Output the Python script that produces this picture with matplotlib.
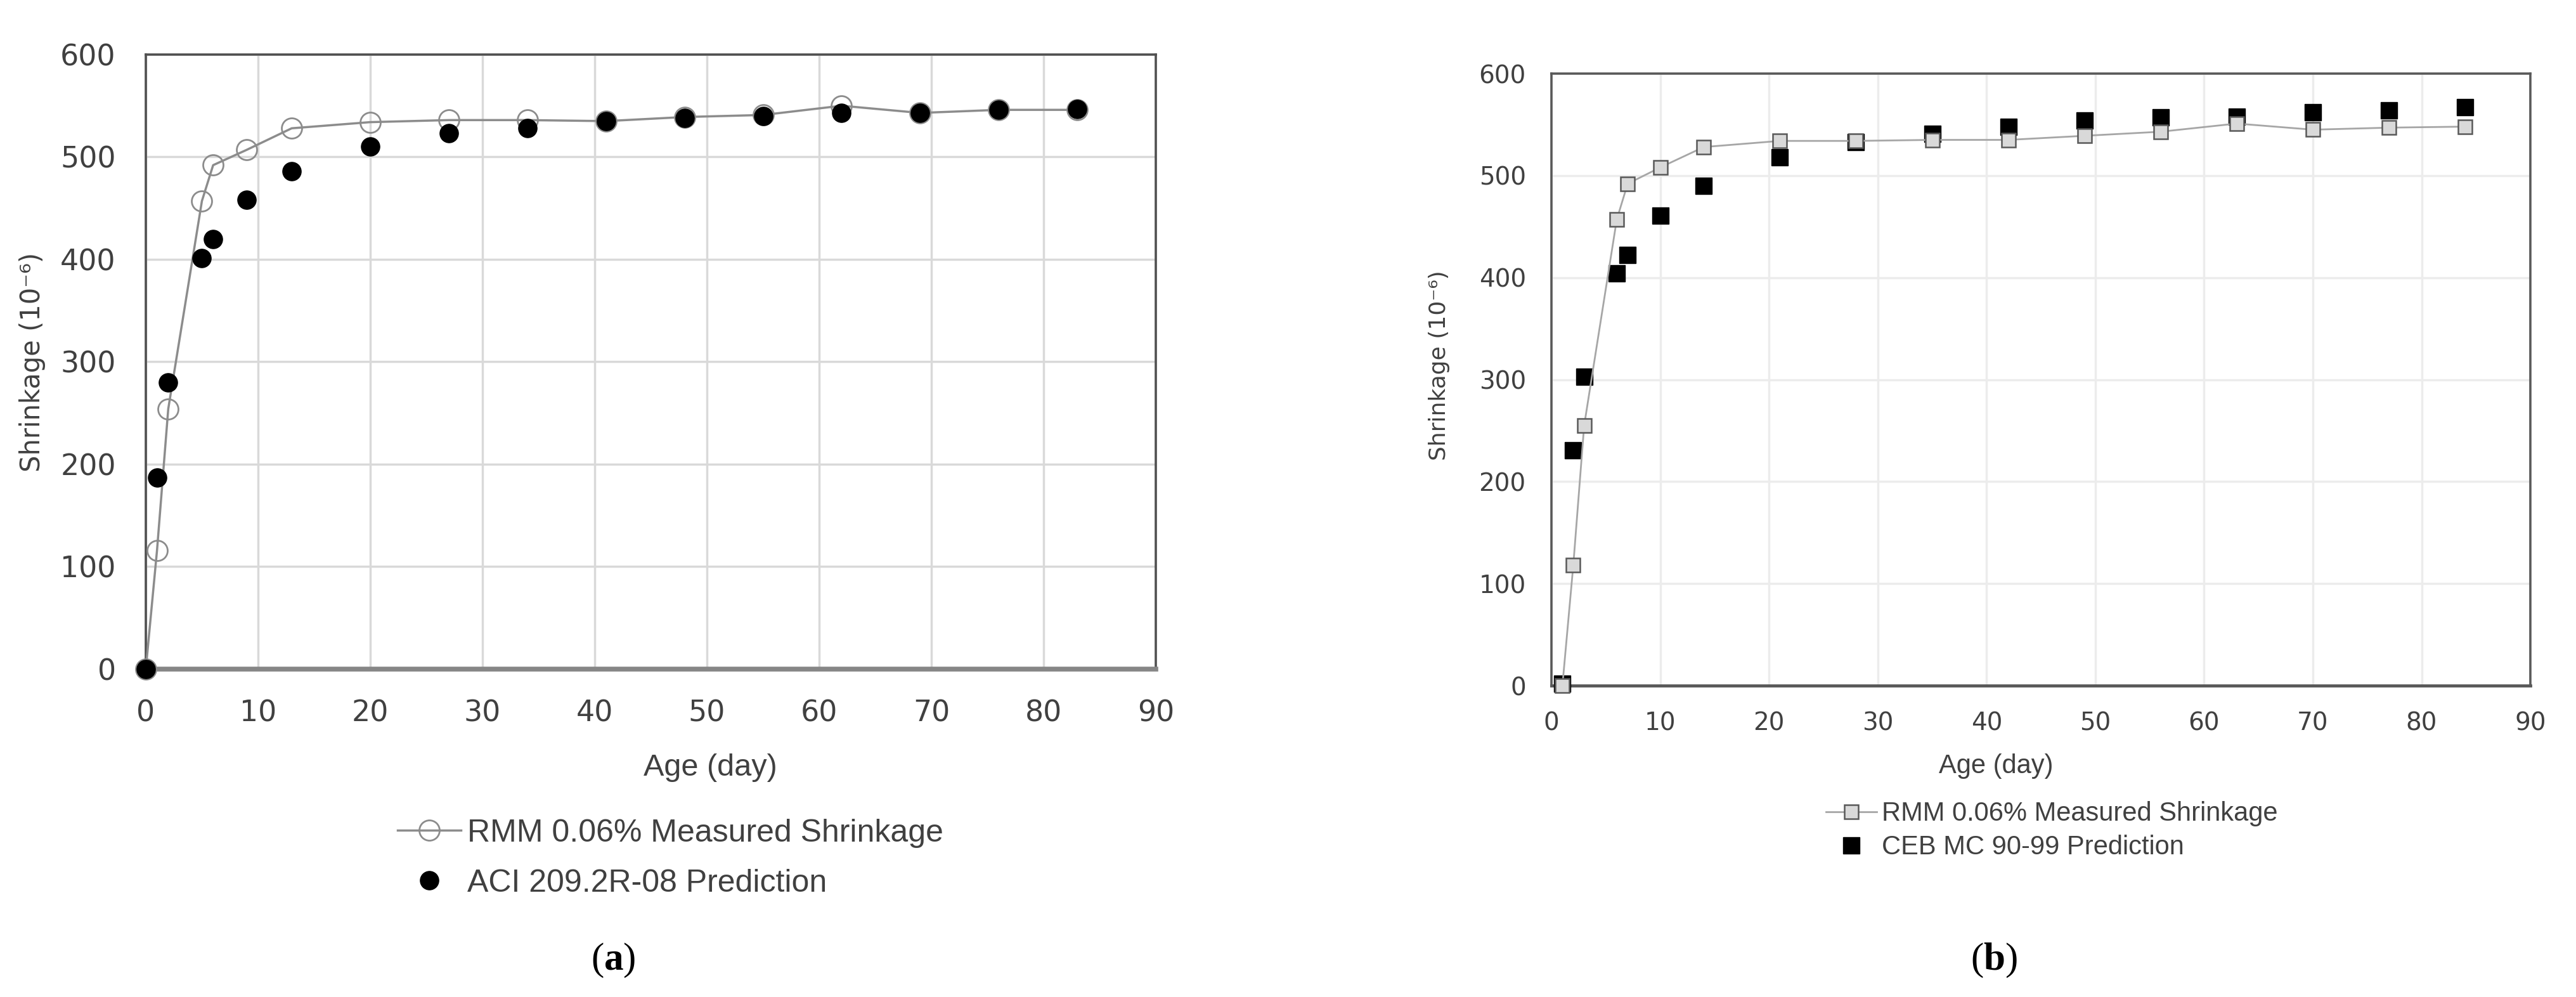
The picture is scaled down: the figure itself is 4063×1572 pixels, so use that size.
import matplotlib
matplotlib.use("Agg")
import matplotlib.pyplot as plt

# panel (a): measured vs ACI 209.2R-08
age_a = [0, 1, 2, 5, 6, 9, 13, 20, 27, 34, 41, 48, 55, 62, 69, 76, 83]
measured_a = [0, 116, 254, 457, 492, 507, 528, 534, 536, 536, 535, 539, 541, 550, 543, 546, 546]
aci_pred = [0, 187, 280, 401, 420, 458, 486, 510, 523, 528, 535, 538, 540, 543, 543, 546, 547]

# panel (b): measured vs CEB MC 90-99
age_b = [1, 2, 3, 6, 7, 10, 14, 21, 28, 35, 42, 49, 56, 63, 70, 77, 84]
measured_b = [0, 118, 255, 457, 492, 508, 528, 534, 534, 535, 535, 539, 543, 551, 545, 547, 548]
ceb_pred = [2, 231, 303, 404, 422, 461, 490, 518, 533, 541, 548, 554, 557, 558, 562, 564, 567]

xticks = list(range(0, 91, 10))
yticks = list(range(0, 601, 100))

plt.rcParams['mathtext.fontset'] = 'custom'
plt.rcParams['mathtext.rm'] = 'Liberation Serif'
plt.rcParams['mathtext.bf'] = 'Liberation Serif:bold'

fig = plt.figure(figsize=(40.63, 15.72), dpi=100)

# ---------- (a) ----------
ax1 = fig.add_axes([0.0566, 0.3289, 0.3921, 0.6164])
ax1.plot(age_a, measured_a, color='#8c8c8c', lw=2.5, marker='o', ms=23,
         mfc='none', mec='#8c8c8c', mew=2, zorder=3, clip_on=False,
         label='RMM 0.06% Measured Shrinkage')
ax1.plot(age_a, aci_pred, ls='none', marker='o', ms=21, color='black',
         zorder=4, clip_on=False, label='ACI 209.2R-08 Prediction')
ax1.set_xlim(0, 90)
ax1.set_ylim(0, 600)
ax1.set_xticks(xticks)
ax1.set_yticks(yticks)
ax1.grid(True, color='#d9d9d9', lw=2.5)
ax1.set_axisbelow(True)
ax1.tick_params(length=0, labelsize=33, labelcolor='#404040', pad=34)
for s in ['top', 'left', 'right']:
    ax1.spines[s].set_color('#505050')
    ax1.spines[s].set_linewidth(2.6)
ax1.spines['bottom'].set_color('#868686')
ax1.spines['bottom'].set_linewidth(5.5)
ax1.text(-0.1124, 0.5, 'Shrinkage (10⁻⁶)', transform=ax1.transAxes,
         rotation=90, ha='center', va='center', fontsize=30, color='#404040')
ax1.text(0.559, -0.161, 'Age (day)', transform=ax1.transAxes, ha='center',
         va='center', fontsize=35, color='#404040', family='Liberation Sans')
leg1 = ax1.legend(loc='upper left', bbox_to_anchor=(0.1543, 0.1790),
                  bbox_transform=fig.transFigure, frameon=False,
                  prop={'family': 'Liberation Sans', 'size': 36},
                  handlelength=2.0, handletextpad=0.2, labelspacing=0.66,
                  borderpad=0, borderaxespad=0)
for t in leg1.get_texts():
    t.set_color('#404040')
fig.text(967 / 4063, 1 - 1514 / 1572, r'$\mathrm{(}\mathbf{a}\mathrm{)}$',
         ha='center', va='center', fontsize=44)

# ---------- (b) ----------
ax2 = fig.add_axes([0.6023, 0.3123, 0.3800, 0.6139])
ax2.plot(age_b, ceb_pred, ls='none', marker='s', ms=19, color='black',
         zorder=3, clip_on=False, label='CEB MC 90-99 Prediction')
ax2.plot(age_b, measured_b, color='#a6a6a6', lw=2, marker='s', ms=16.5,
         mfc='#d9d9d9', mec='#595959', mew=1.8, zorder=4, clip_on=False,
         label='RMM 0.06% Measured Shrinkage')
ax2.set_xlim(0, 90)
ax2.set_ylim(0, 600)
ax2.set_xticks(xticks)
ax2.set_yticks(yticks)
ax2.grid(True, color='#ececec', lw=2.5)
ax2.set_axisbelow(True)
ax2.tick_params(length=0, labelsize=28, labelcolor='#404040', pad=29)
for s in ax2.spines.values():
    s.set_color('#595959')
    s.set_linewidth(2.6)
ax2.spines['bottom'].set_linewidth(3.5)
ax2.text(-0.1146, 0.523, 'Shrinkage (10⁻⁶)', transform=ax2.transAxes,
         rotation=90, ha='center', va='center', fontsize=26, color='#404040')
ax2.text(0.454, -0.1316, 'Age (day)', transform=ax2.transAxes, ha='center',
         va='center', fontsize=30, color='#404040', family='Liberation Sans')
h, l = ax2.get_legend_handles_labels()
leg2 = ax2.legend(h[::-1], l[::-1], loc='upper left',
                  bbox_to_anchor=(0.7088, 0.1965),
                  bbox_transform=fig.transFigure, frameon=False,
                  prop={'family': 'Liberation Sans', 'size': 30},
                  handlelength=1.92, handletextpad=0.2, labelspacing=0.32,
                  borderpad=0, borderaxespad=0)
for t in leg2.get_texts():
    t.set_color('#404040')
fig.text(3145 / 4063, 1 - 1514 / 1572, r'$\mathrm{(}\mathbf{b}\mathrm{)}$',
         ha='center', va='center', fontsize=44)

fig.savefig('out.png', dpi=100, facecolor='white')
